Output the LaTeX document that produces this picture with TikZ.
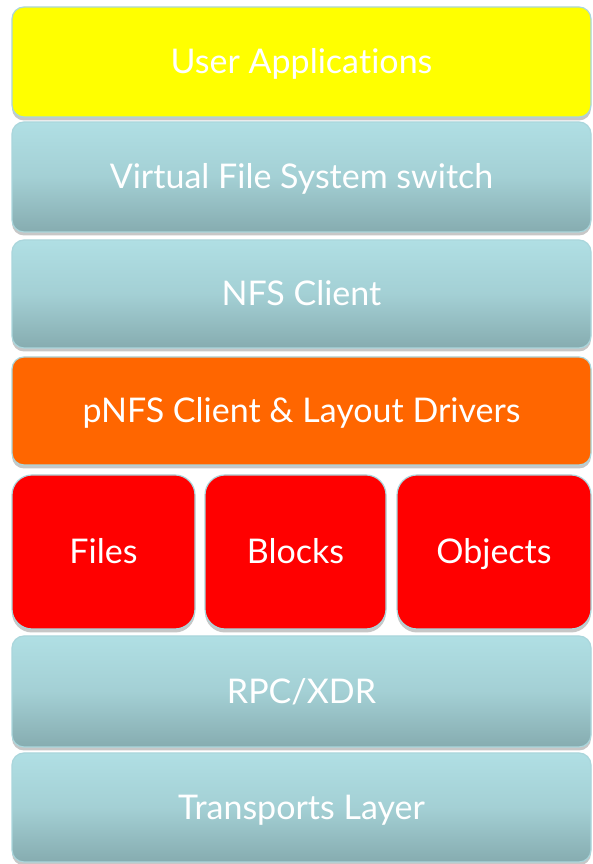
\documentclass[tikz,border=0pt]{standalone}
\usepackage{fontspec}
\setmainfont[RawFeature={-liga;-dlig;-calt}]{Lato}
\usetikzlibrary{shadows}
\definecolor{tealtop}{RGB}{176,223,228}
\definecolor{tealbot}{RGB}{134,172,176}
\definecolor{edgeblue}{RGB}{170,214,220}
\definecolor{uayellow}{RGB}{255,255,0}
\definecolor{pnfsorange}{RGB}{255,102,0}
\definecolor{drvred}{RGB}{255,0,0}
\tikzset{
  layerbox/.style={rectangle, rounded corners=12pt, draw=edgeblue, line width=1.2pt,
    text=white, font=\fontsize{34}{38}\selectfont, text height=24pt, text depth=0pt,
    drop shadow={shadow xshift=0pt, shadow yshift=-3.5pt, fill=black!22, opacity=1},
    inner sep=0pt},
  wide/.style={layerbox, minimum width=579pt, minimum height=110pt},
  tealbox/.style={wide, top color=tealtop, bottom color=tealbot, middle color=tealtop!70!tealbot},
  drvbox/.style={layerbox, rounded corners=20pt, fill=drvred, minimum height=154pt},
}
\begin{document}
\begin{tikzpicture}[x=1pt,y=1pt]
\useasboundingbox[fill=white] (0,0) rectangle (592,864);
\node[wide, fill=uayellow] (ua) at (301.5,802) {User Applica\kern0pt tions};
\node[tealbox] (vfs) at (301.5,687) {Virtual File System switch};
\node[tealbox, minimum height=108pt] (nfs) at (301.5,570) {NFS Client};
\node[wide, fill=pnfsorange, minimum height=108pt] (pnfs) at (301.5,453) {pNFS Client \& Layout Drivers};
\node[drvbox, minimum width=183pt] (files) at (103.5,312) {Files};
\node[drvbox, minimum width=181pt] (blocks) at (295.5,312) {Blocks};
\node[drvbox, minimum width=194pt] (objects) at (494,312) {Objects};
\node[tealbox, minimum height=111pt] (rpc) at (301.5,172.5) {RPC/XDR};
\node[tealbox, minimum height=109pt] (tr) at (301.5,56.5) {Transports Layer};
\end{tikzpicture}
\end{document}
